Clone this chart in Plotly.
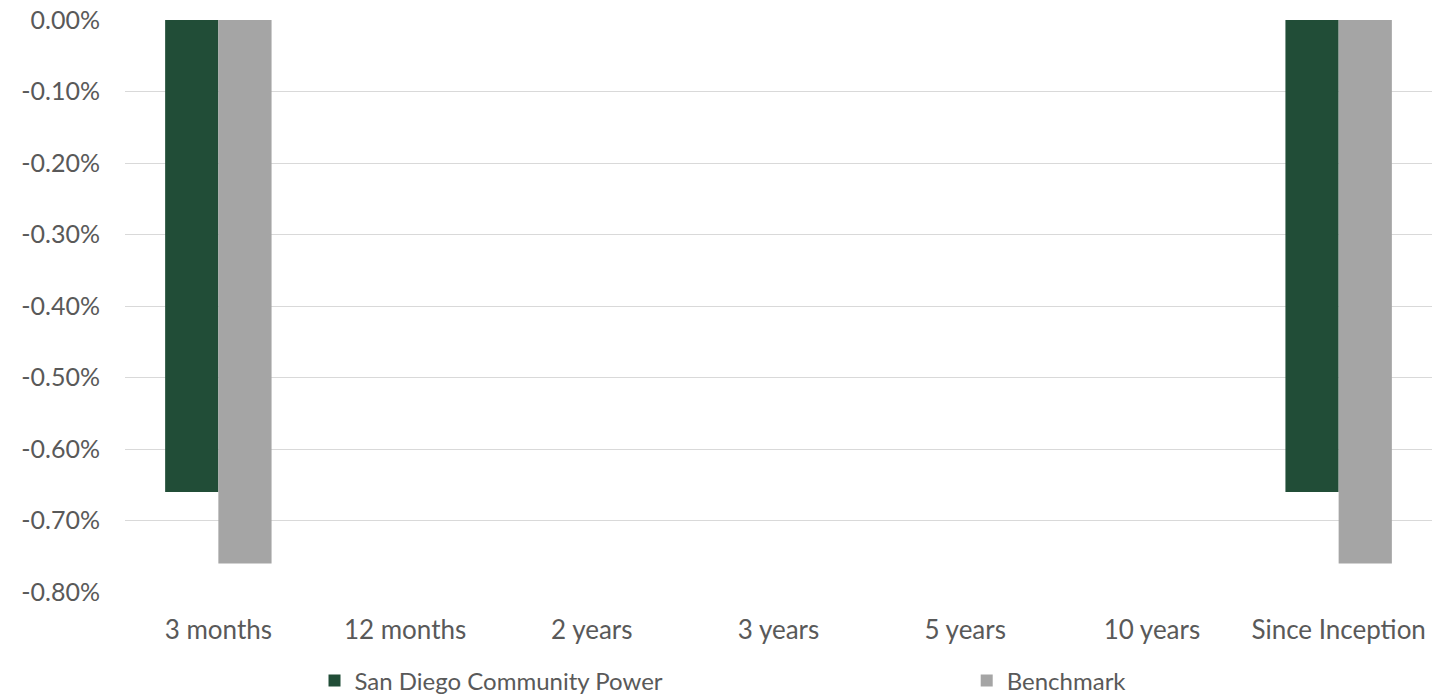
import plotly.graph_objects as go

# Return periods and returns (as fractions)
periods = ["3 months", "12 months", "2 years", "3 years", "5 years", "10 years", "Since Inception"]
sdcp_returns = [-0.0066, None, None, None, None, None, -0.0066]
benchmark_returns = [-0.0076, None, None, None, None, None, -0.0076]
y_ticks = [0, -0.001, -0.002, -0.003, -0.004, -0.005, -0.006, -0.007, -0.008]
y_tick_labels = ["0.00%", "-0.10%", "-0.20%", "-0.30%", "-0.40%",
                 "-0.50%", "-0.60%", "-0.70%", "-0.80%"]

GREEN = "#214D37"
GREY = "#A5A5A5"
TEXT = "#595959"
FONT = "Lato"

fig = go.Figure()
fig.add_trace(go.Bar(
    x=periods, y=sdcp_returns, name="San Diego Community Power",
    marker=dict(color=GREEN, line=dict(width=0)), legend="legend",
))
fig.add_trace(go.Bar(
    x=periods, y=benchmark_returns, name="Benchmark",
    marker=dict(color=GREY, line=dict(width=0)), legend="legend2",
))

legend_style = dict(
    orientation="h", xanchor="left", yanchor="middle",
    yref="container", y=0.023,
    font=dict(family=FONT, size=24, color=TEXT), bgcolor="rgba(0,0,0,0)",
)

fig.update_layout(
    width=1435, height=697,
    margin=dict(l=125, r=3, t=20, b=105, autoexpand=False),
    paper_bgcolor="white", plot_bgcolor="white",
    barmode="group", bargap=0.43, bargroupgap=0,
    font=dict(family=FONT, color=TEXT),
    showlegend=True,
    legend=dict(x=0.145, **legend_style),
    legend2=dict(x=0.644, **legend_style),
    xaxis=dict(
        showgrid=False, showline=False, zeroline=False, ticks="",
        tickfont=dict(family=FONT, size=26, color=TEXT),
        ticklabelstandoff=20,
    ),
    yaxis=dict(
        range=[-0.008, 0], tickvals=y_ticks, ticktext=y_tick_labels,
        showgrid=True, gridcolor="#D9D9D9", gridwidth=1,
        zeroline=False, showline=False, ticks="",
        tickfont=dict(family=FONT, size=25, color=TEXT),
        ticklabelstandoff=24,
    ),
)

fig.write_html("out.html")
